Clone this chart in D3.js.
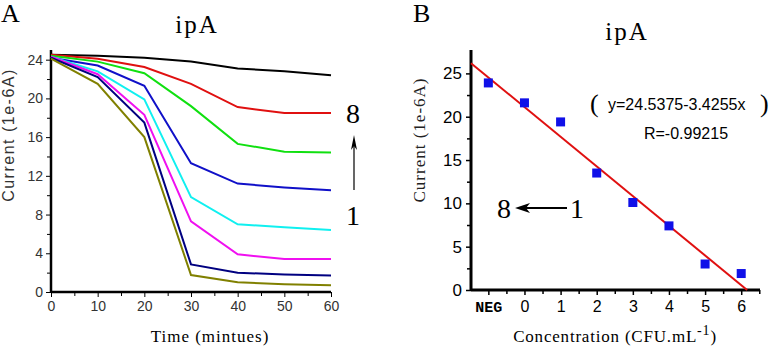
<!DOCTYPE html>
<html>
<head>
<meta charset="utf-8">
<script src="https://cdn.jsdelivr.net/npm/d3@7"></script>
<style>
  body { margin: 0; background: #fff; }
  svg { display: block; }
  .axis path, .axis line { stroke: #000; }
</style>
</head>
<body>
<svg id="svgMain" width="770" height="350"></svg>
<script>
// Panel A: current vs time for 8 concentrations
const times = [0, 10, 20, 30, 40, 50, 60];
const seriesColors = ["#000000", "#e01010", "#10e010", "#1010c8", "#10f0f0", "#f010f0", "#000080", "#808000"];
const seriesValues = [
    [24.5, 24.4, 24.2, 23.8, 23.1, 22.8, 22.4],
    [24.5, 24.1, 23.25, 21.5, 19.1, 18.5, 18.5],
    [24.4, 23.8, 22.6, 19.2, 15.3, 14.5, 14.4],
    [24.2, 23.4, 21.3, 13.3, 11.2, 10.8, 10.5],
    [24.3, 22.8, 19.9, 9.8, 7.0, 6.7, 6.4],
    [24.3, 22.5, 18.3, 7.3, 3.9, 3.4, 3.4],
    [24.2, 22.2, 17.5, 2.85, 2.0, 1.8, 1.7],
    [24.1, 21.5, 16.0, 1.75, 1.0, 0.8, 0.7]
];
const timeTicks = [0, 10, 20, 30, 40, 50, 60];
const currentTicksA = [0, 4, 8, 12, 16, 20, 24];

// Panel B: current vs concentration (NEG placed at -1)
const concLabels = ["NEG", "0", "1", "2", "3", "4", "5", "6"];
const concPos = [-1, 0, 1, 2, 3, 4, 5, 6];
const concCurrent = [23.9, 21.6, 19.4, 13.5, 10.1, 7.4, 3.0, 1.9];
const fitIntercept = 24.5375;
const fitSlope = -3.4255;
const currentTicksB = [0, 5, 10, 15, 20, 25];

const svgMain = d3.select("#svgMain");
const serif = "'Liberation Serif', 'DejaVu Serif', serif";
const sans = "'Liberation Sans', Arial, sans-serif";

//----- Panel A -----
const xA = d3.scaleLinear().domain([0, 60]).range([51, 331]);
const yA = d3.scaleLinear().domain([0, 25]).range([292, 50]);

const gA = svgMain.append("g");

// minor ticks
gA.append("g").attr("class", "axis")
    .attr("transform", "translate(0," + yA(0) + ")")
    .call(d3.axisBottom(xA).tickValues(d3.range(5, 60, 10)).tickSize(4).tickFormat(""))
    .call(g => g.select(".domain").remove());
gA.append("g").attr("class", "axis")
    .attr("transform", "translate(" + xA(0) + ",0)")
    .call(d3.axisLeft(yA).tickValues(d3.range(2, 25, 4)).tickSize(4).tickFormat(""))
    .call(g => g.select(".domain").remove());

let xAxisA = gA.append("g").attr("class", "axis")
    .attr("transform", "translate(0," + yA(0) + ")")
    .call(d3.axisBottom(xA).tickValues(timeTicks).tickSize(5).tickSizeOuter(0).tickPadding(4));
xAxisA.select(".domain").attr("stroke-width", 2.5).attr("d", "M" + xA(0) + ",0H" + xA(60));
xAxisA.selectAll("text").attr("font-family", sans).attr("font-size", "14px").attr("fill", "#333");

let yAxisA = gA.append("g").attr("class", "axis")
    .attr("transform", "translate(" + xA(0) + ",0)")
    .call(d3.axisLeft(yA).tickValues(currentTicksA).tickSize(5).tickSizeOuter(0).tickPadding(3));
yAxisA.select(".domain").attr("stroke-width", 2.5).attr("d", "M0," + yA(0) + "V" + yA(25));
yAxisA.selectAll("text").attr("font-family", sans).attr("font-size", "14px").attr("fill", "#333");

const lineA = d3.line().x((d, i) => xA(times[i])).y(d => yA(d));
gA.selectAll(".series")
    .data(seriesValues)
    .enter().append("path")
    .attr("class", "series")
    .attr("d", d => lineA(d))
    .attr("fill", "none")
    .attr("stroke", (d, i) => seriesColors[i])
    .attr("stroke-width", 2);

gA.append("text").attr("x", 1).attr("y", 22)
    .attr("font-family", serif).attr("font-size", "26px").text("A");
gA.append("text").attr("x", 197).attr("y", 33).attr("text-anchor", "middle")
    .attr("font-family", serif).attr("font-size", "25px").attr("letter-spacing", "2px").text("ipA");
gA.append("text").attr("transform", "translate(14,135) rotate(-90)")
    .attr("text-anchor", "middle").attr("font-family", sans).attr("font-size", "16px")
    .attr("letter-spacing", "1.5px").attr("fill", "#333").text("Current (1e-6A)");
gA.append("text").attr("x", 210).attr("y", 342).attr("text-anchor", "middle")
    .attr("font-family", serif).attr("font-size", "17px").attr("letter-spacing", "1px").text("Time (mintues)");

// 8 / 1 with arrow
gA.append("text").attr("x", 353).attr("y", 123).attr("text-anchor", "middle")
    .attr("font-family", serif).attr("font-size", "28px").text("8");
gA.append("text").attr("x", 353).attr("y", 225).attr("text-anchor", "middle")
    .attr("font-family", serif).attr("font-size", "28px").text("1");
gA.append("line").attr("x1", 354).attr("x2", 354).attr("y1", 190).attr("y2", 142)
    .attr("stroke", "#000").attr("stroke-width", 1.2);
gA.append("path").attr("d", "M354,135 L351,150 L354,146 L357,150 Z").attr("fill", "#000");

//----- Panel B -----
const xB = d3.scaleLinear().domain([-1.48, 6.52]).range([471, 760]);
const yB = d3.scaleLinear().domain([0, 27.7]).range([290, 50]);

const gB = svgMain.append("g");

gB.append("g").attr("class", "axis")
    .attr("transform", "translate(0," + yB(0) + ")")
    .call(d3.axisBottom(xB).tickValues(d3.range(-0.5, 6.6, 1)).tickSize(4).tickFormat(""))
    .call(g => g.select(".domain").remove())
    .selectAll("line").attr("stroke-width", 1.5);
gB.append("g").attr("class", "axis")
    .attr("transform", "translate(" + xB(-1.48) + ",0)")
    .call(d3.axisLeft(yB).tickValues(d3.range(2.5, 27, 5)).tickSize(4).tickFormat(""))
    .call(g => g.select(".domain").remove())
    .selectAll("line").attr("stroke-width", 1.5);

let xAxisB = gB.append("g").attr("class", "axis")
    .attr("transform", "translate(0," + yB(0) + ")")
    .call(d3.axisBottom(xB).tickValues(concPos).tickFormat((d, i) => concLabels[i])
        .tickSize(5).tickSizeOuter(0).tickPadding(6));
xAxisB.select(".domain").attr("stroke-width", 3).attr("d", "M" + xB(-1.48) + ",0H" + xB(6.52));
xAxisB.selectAll("line").attr("stroke-width", 1.5);
xAxisB.selectAll("text").attr("font-family", sans).attr("font-size", "16px").attr("fill", "#000");
xAxisB.selectAll("text").filter(d => d === -1)
    .attr("font-family", "'Liberation Mono', 'DejaVu Sans Mono', monospace")
    .attr("font-weight", "bold").attr("font-size", "15px");

let yAxisB = gB.append("g").attr("class", "axis")
    .attr("transform", "translate(" + xB(-1.48) + ",0)")
    .call(d3.axisLeft(yB).tickValues(currentTicksB).tickSize(5).tickSizeOuter(0).tickPadding(4));
yAxisB.select(".domain").attr("stroke-width", 3).attr("d", "M0," + yB(0) + "V" + yB(27.7));
yAxisB.selectAll("line").attr("stroke-width", 1.5);
yAxisB.selectAll("text").attr("font-family", sans).attr("font-size", "17px").attr("fill", "#000");

// fit line, x counted from NEG = 0
const fit = c => fitIntercept + fitSlope * (c + 1);
const xEnd = -fitIntercept / fitSlope - 1;
gB.append("path")
    .attr("d", d3.line().x(d => xB(d)).y(d => yB(fit(d)))([-1.48, xEnd]))
    .attr("stroke", "#e01010").attr("stroke-width", 2).attr("fill", "none");

gB.selectAll("rect.pt")
    .data(concCurrent)
    .enter().append("rect")
    .attr("class", "pt")
    .attr("x", (d, i) => xB(concPos[i]) - 4.5)
    .attr("y", d => yB(d) - 4.5)
    .attr("width", 9).attr("height", 9)
    .attr("fill", "#1010e8");

gB.append("text").attr("x", 413).attr("y", 22)
    .attr("font-family", serif).attr("font-size", "26px").text("B");
gB.append("text").attr("x", 627).attr("y", 40).attr("text-anchor", "middle")
    .attr("font-family", serif).attr("font-size", "25px").attr("letter-spacing", "2px").text("ipA");
gB.append("text").attr("transform", "translate(425,140) rotate(-90)")
    .attr("text-anchor", "middle").attr("font-family", serif).attr("font-size", "17px")
    .attr("letter-spacing", "1px").attr("fill", "#222").text("Current  (1e-6A)");

let concTitle = gB.append("text").attr("x", 615).attr("y", 342).attr("text-anchor", "middle")
    .attr("font-family", serif).attr("font-size", "17px").attr("letter-spacing", "0.8px");
concTitle.append("tspan").text("Concentration (CFU.mL");
concTitle.append("tspan").attr("dy", -7).attr("font-size", "14px").text("-1");
concTitle.append("tspan").attr("dy", 7).text(")");

// equation text
gB.append("text").attr("x", 590).attr("y", 112)
    .attr("font-family", serif).attr("font-size", "26px").text("(");
gB.append("text").attr("x", 608).attr("y", 110)
    .attr("font-family", sans).attr("font-size", "16px").text("y=24.5375-3.4255x");
gB.append("text").attr("x", 760).attr("y", 112)
    .attr("font-family", serif).attr("font-size", "26px").text(")");
gB.append("text").attr("x", 686).attr("y", 139).attr("text-anchor", "middle")
    .attr("font-family", sans).attr("font-size", "16px").text("R=-0.99215");

gB.append("text").attr("x", 504).attr("y", 218).attr("text-anchor", "middle")
    .attr("font-family", serif).attr("font-size", "28px").text("8");
gB.append("text").attr("x", 577).attr("y", 218).attr("text-anchor", "middle")
    .attr("font-family", serif).attr("font-size", "28px").text("1");
gB.append("line").attr("x1", 567).attr("x2", 522).attr("y1", 208).attr("y2", 208)
    .attr("stroke", "#000").attr("stroke-width", 2);
gB.append("path").attr("d", "M515,208 L530,203 L526,208 L530,213 Z").attr("fill", "#000");
</script>
</body>
</html>
